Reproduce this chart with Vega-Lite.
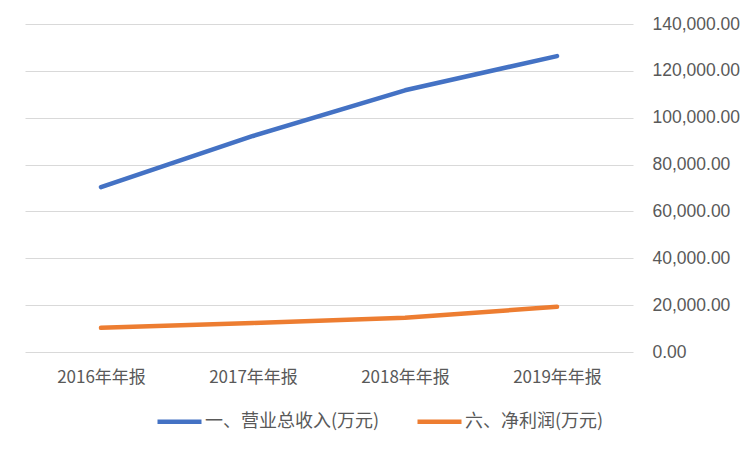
{
  "$schema": "https://vega.github.io/schema/vega-lite/v6.json",
  "autosize": "none",
  "width": 608,
  "height": 328,
  "padding": {"left": 25, "top": 24, "right": 118, "bottom": 100},
  "background": "#ffffff",
  "data": {
    "values": [
      {"period": "2016年年报", "series": "一、营业总收入(万元)", "value": 70400},
      {"period": "2017年年报", "series": "一、营业总收入(万元)", "value": 92200},
      {"period": "2018年年报", "series": "一、营业总收入(万元)", "value": 111700},
      {"period": "2019年年报", "series": "一、营业总收入(万元)", "value": 126300},
      {"period": "2016年年报", "series": "六、净利润(万元)", "value": 10300},
      {"period": "2017年年报", "series": "六、净利润(万元)", "value": 12400},
      {"period": "2018年年报", "series": "六、净利润(万元)", "value": 14600},
      {"period": "2019年年报", "series": "六、净利润(万元)", "value": 19300}
    ]
  },
  "mark": {"type": "line", "strokeWidth": 4.5, "strokeCap": "round", "strokeJoin": "round"},
  "encoding": {
    "x": {
      "field": "period", "type": "ordinal", "title": null,
      "scale": {"type": "point", "padding": 0.5},
      "axis": {"labelAngle": 0, "ticks": false, "domain": false, "grid": false, "labelPadding": 17, "labelFontSize": 17, "labelFont": "Noto Sans CJK SC", "labelColor": "#595959"}
    },
    "y": {
      "field": "value", "type": "quantitative", "title": null,
      "scale": {"domain": [0, 140000], "nice": false},
      "axis": {"orient": "right", "values": [0, 20000, 40000, 60000, 80000, 100000, 120000, 140000], "format": ",.2f", "ticks": false, "domain": false, "gridColor": "#D9D9D9", "gridWidth": 1, "labelPadding": 19, "labelFontSize": 17.5, "labelFont": "Liberation Sans", "labelColor": "#595959"}
    },
    "color": {
      "field": "series", "type": "nominal", "title": null,
      "sort": ["一、营业总收入(万元)", "六、净利润(万元)"],
      "scale": {"range": ["#4472C4", "#ED7D31"]},
      "legend": {"orient": "none", "direction": "horizontal", "legendX": 130, "legendY": 373, "symbolType": "stroke", "symbolSize": 1936, "symbolStrokeWidth": 4.5, "labelFontSize": 18, "labelFont": "Noto Sans CJK SC", "labelColor": "#595959", "columnPadding": 28, "labelOffset": 1, "labelLimit": 300}
    }
  },
  "config": {"view": {"stroke": null}}
}
